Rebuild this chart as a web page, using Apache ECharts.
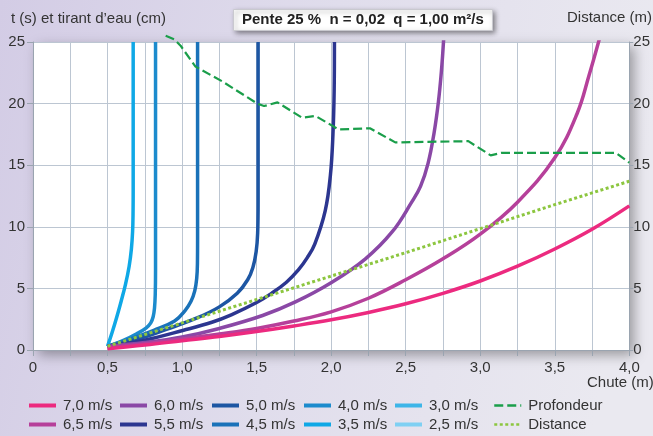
<!DOCTYPE html>
<html>
<head>
<meta charset="utf-8">
<script src="https://cdn.jsdelivr.net/npm/echarts@6/dist/echarts.min.js"></script>
<style>
  html, body { margin: 0; padding: 0; }
  #chart { width: 653px; height: 436px; }
</style>
</head>
<body>
<div id="chart"></div>
<script>
// Tick labels of the "Chute (m)" axis
const xLabels = ['0', '0,5', '1,0', '1,5', '2,0', '2,5', '3,0', '3,5', '4,0'];

// Time curves, [chute (m), t (s)]
const v70 = [[0.5, 0.1], [0.75, 0.4], [1.0, 0.75], [1.25, 1.1], [1.5, 1.5], [1.75, 1.95], [2.0, 2.45], [2.25, 3.05], [2.5, 3.75], [2.75, 4.6], [3.0, 5.6], [3.25, 6.8], [3.5, 8.2], [3.75, 9.8], [4.0, 11.7]];
const v65 = [[0.5, 0.2], [0.75, 0.5], [1.0, 0.9], [1.25, 1.3], [1.5, 1.75], [1.75, 2.35], [2.0, 3.1], [2.25, 4.2], [2.5, 5.7], [2.75, 7.4], [3.0, 9.4], [3.25, 12.0], [3.5, 15.6], [3.65, 19.2], [3.73, 22.3], [3.805, 25.5]];
const v60 = [[0.5, 0.3], [0.75, 0.6], [1.0, 1.05], [1.25, 1.75], [1.54, 2.8], [1.76, 3.9], [2.005, 5.5], [2.23, 7.4], [2.41, 9.6], [2.54, 12.0], [2.60, 13.3], [2.65, 15.15], [2.69, 17.6], [2.72, 20.2], [2.74, 22.7], [2.755, 25.3]];
const v55 = [[0.5, 0.3], [0.75, 0.8], [1.01, 1.6], [1.2, 2.25], [1.33, 2.85], [1.5, 3.85], [1.6, 4.6], [1.7, 5.5], [1.78, 6.5], [1.84, 7.5], [1.89, 8.6], [1.96, 11.3], [1.995, 14.2], [2.012, 17.5], [2.02, 21], [2.022, 25]];
const v50 = [[0.5, 0.3], [0.68, 0.8], [0.9, 1.7], [1.1, 2.6], [1.25, 3.5], [1.37, 4.6], [1.44, 5.7], [1.475, 6.7], [1.497, 8.0], [1.507, 9.5], [1.51, 12], [1.51, 25]];
const v45 = [[0.5, 0.3], [0.63, 0.8], [0.81, 1.6], [0.95, 2.35], [1.02, 3.2], [1.06, 3.95], [1.085, 4.8], [1.098, 5.8], [1.103, 7.0], [1.104, 9], [1.104, 25]];
const v40 = [[0.5, 0.3], [0.61, 0.8], [0.70, 1.35], [0.76, 1.8], [0.79, 2.2], [0.806, 2.7], [0.815, 3.4], [0.82, 4.5], [0.822, 6.5], [0.822, 25]];
const v35 = [[0.5, 0.3], [0.53, 1.4], [0.56, 2.6], [0.59, 3.9], [0.62, 5.3], [0.645, 6.8], [0.66, 8.2], [0.668, 9.6], [0.671, 11.0], [0.672, 13], [0.672, 25]];
const v30 = [];
const v25 = [];

// Tirant d'eau (cm) and distance (m)
const profondeur = [[0.89, 25.5], [0.95, 25.2], [0.99, 24.7], [1.09, 23.0], [1.27, 21.8], [1.505, 20.0], [1.55, 19.8], [1.64, 20.1], [1.805, 18.85], [1.895, 19.0], [2.05, 17.9], [2.26, 18.0], [2.43, 16.85], [2.92, 16.95], [3.07, 15.8], [3.14, 16.0], [3.91, 16.0], [4.0, 15.2]];
const distance = [[0.5, 0.3], [1.0, 2.2], [1.5, 4.1], [2.0, 6.0], [2.5, 7.9], [3.0, 9.85], [3.5, 11.8], [4.0, 13.7]];

const FONT = '"Liberation Sans", Arial, sans-serif';

function speedLine(name, data, color) {
    return {
        name: name,
        type: 'line',
        data: data,
        symbol: 'none',
        smooth: 0.4,
        lineStyle: { color: color, width: 3.5 },
        itemStyle: { color: color }
    };
}

function legendColumn(left, names, lineWidth) {
    return {
        orient: 'vertical',
        left: left,
        top: 398,
        padding: 0,
        itemWidth: 27,
        itemHeight: 14,
        itemGap: 4,
        data: names,
        itemStyle: { color: 'rgba(0,0,0,0)', borderWidth: 0, opacity: 0 },
        lineStyle: { width: lineWidth },
        textStyle: { fontSize: 15, color: '#333', fontFamily: FONT, padding: [0, 0, 0, 2] }
    };
}

function initChart() {
    const chartDom = document.getElementById('chart');
    const chart = echarts.init(chartDom);

    const option = {
        animation: false,
        backgroundColor: {
            type: 'linear', x: 0, y: 0, x2: 1, y2: 0.3,
            colorStops: [
                { offset: 0, color: '#d3cce5' },
                { offset: 0.5, color: '#e0ddec' },
                { offset: 1, color: '#eae9f0' }
            ]
        },
        title: {
            text: 'Pente 25 %  n = 0,02  q = 1,00 m²/s',
            left: 233,
            top: 9,
            padding: [3, 9, 4, 9],
            backgroundColor: '#fff',
            borderColor: '#c9c9cf',
            borderWidth: 1,
            shadowBlur: 5,
            shadowColor: 'rgba(0, 0, 0, 0.45)',
            shadowOffsetX: 2,
            shadowOffsetY: 2,
            textStyle: { fontSize: 15, fontWeight: 'bold', color: '#222', fontFamily: FONT }
        },
        legend: [
            legendColumn(27, ['7,0 m/s', '6,5 m/s'], 4),
            legendColumn(118, ['6,0 m/s', '5,5 m/s'], 4),
            legendColumn(210, ['5,0 m/s', '4,5 m/s'], 4),
            legendColumn(302, ['4,0 m/s', '3,5 m/s'], 4),
            legendColumn(393, ['3,0 m/s', '2,5 m/s'], 4),
            legendColumn(493, ['Profondeur', 'Distance'], 2.5)
        ],
        grid: {
            left: 33,
            right: 21,
            top: 42,
            bottom: 86,
            show: true,
            backgroundColor: '#fff',
            borderWidth: 0,
            shadowBlur: 12,
            shadowColor: 'rgba(0, 0, 0, 0.35)',
            shadowOffsetX: 5,
            shadowOffsetY: 5
        },
        xAxis: {
            type: 'value',
            min: 0,
            max: 4,
            interval: 0.25,
            axisLine: { lineStyle: { color: '#9aa4b0' } },
            axisTick: { length: 6, lineStyle: { color: '#9aa4b0' } },
            axisLabel: {
                margin: 10,
                fontSize: 15,
                color: '#333',
                fontFamily: FONT,
                formatter: function (v) {
                    const i = Math.round(v * 2);
                    return Math.abs(v * 2 - i) < 1e-6 ? xLabels[i] : '';
                }
            },
            splitLine: { lineStyle: { color: '#bcc6d2' } }
        },
        yAxis: [{
            type: 'value',
            min: 0,
            max: 25,
            interval: 5,
            position: 'left',
            axisLine: { show: true, lineStyle: { color: '#9aa4b0' } },
            axisTick: { show: true, length: 6, lineStyle: { color: '#9aa4b0' } },
            axisLabel: { margin: 8, fontSize: 15, color: '#333', fontFamily: FONT },
            splitLine: { lineStyle: { color: '#bcc6d2' } }
        }, {
            type: 'value',
            min: 0,
            max: 25,
            interval: 5,
            position: 'right',
            axisLine: { show: true, lineStyle: { color: '#9aa4b0' } },
            axisTick: { show: true, length: 4, lineStyle: { color: '#9aa4b0' } },
            axisLabel: { margin: 4, fontSize: 15, color: '#333', fontFamily: FONT },
            splitLine: { show: false }
        }],
        graphic: [
            { type: 'text', left: 11, top: 11, style: { text: 't (s) et tirant d’eau (cm)', font: '15px ' + FONT, fill: '#333' } },
            { type: 'text', left: 567, top: 10, style: { text: 'Distance (m)', font: '15px ' + FONT, fill: '#333' } },
            { type: 'text', left: 587, top: 375, style: { text: 'Chute (m)', font: '15px ' + FONT, fill: '#333' } }
        ],
        series: [
            speedLine('2,5 m/s', v25, '#7fd0f3'),
            speedLine('3,0 m/s', v30, '#3db5e8'),
            speedLine('3,5 m/s', v35, '#0fa8e6'),
            speedLine('4,0 m/s', v40, '#1c8bcd'),
            speedLine('4,5 m/s', v45, '#1a72b9'),
            speedLine('5,0 m/s', v50, '#1d56a3'),
            speedLine('5,5 m/s', v55, '#2c3690'),
            speedLine('6,0 m/s', v60, '#8a48a6'),
            speedLine('6,5 m/s', v65, '#b6409a'),
            speedLine('7,0 m/s', v70, '#ec2a7f'),
            {
                name: 'Profondeur',
                type: 'line',
                data: profondeur,
                symbol: 'none',
                clip: false,
                lineStyle: { color: '#1a9e4a', width: 2.2, type: [9, 4] },
                itemStyle: { color: '#1a9e4a' }
            },
            {
                name: 'Distance',
                type: 'line',
                yAxisIndex: 1,
                data: distance,
                symbol: 'none',
                lineStyle: { color: '#8cc63f', width: 3, type: [3, 2.5] },
                itemStyle: { color: '#8cc63f' }
            }
        ]
    };

    chart.setOption(option);
    window.addEventListener('resize', chart.resize);
}

document.addEventListener('DOMContentLoaded', function () {
    if (typeof echarts !== 'undefined') {
        initChart();
    }
});
</script>
</body>
</html>
